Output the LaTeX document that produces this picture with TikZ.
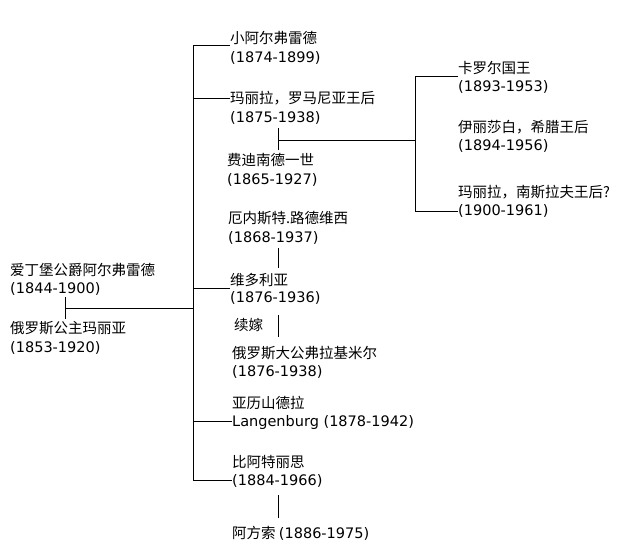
\documentclass[tikz,border=0pt]{standalone}
\usepackage{fontspec}
\setmainfont{DejaVu Sans}[Scale=1.0]
\newfontfamily\cjk{Noto Sans CJK SC}
\begin{document}
\begin{tikzpicture}[x=1pt,y=-1pt,
  lbl/.style={anchor=west,inner sep=0pt,font=\fontsize{14.5}{16}\selectfont},
  ln/.style={line width=0.8pt}]
\useasboundingbox (0,0) rectangle (640,554);
\fill[white] (0,0) rectangle (640,554);
% parents
\node[lbl] (a1) at (10,270) {\cjk 爱丁堡公爵阿尔弗雷德};
\node[lbl] (a2) at (10,289) {(1844-1900)};
\node[lbl] (m1) at (10,328) {\cjk 俄罗斯公主玛丽亚};
\node[lbl] (m2) at (10,348) {(1853-1920)};
% children
\node[lbl] (c1) at (230,38) {\cjk 小阿尔弗雷德};
\node[lbl] (c1d) at (230,58) {(1874-1899)};
\node[lbl] (c2) at (230,98) {\cjk 玛丽拉，罗马尼亚王后};
\node[lbl] (c2d) at (230,118) {(1875-1938)};
\node[lbl] (f1) at (227,160) {\cjk 费迪南德一世};
\node[lbl] (f1d) at (227,180) {(1865-1927)};
\node[lbl] (e1) at (228,218) {\cjk 厄内斯特.路德维西};
\node[lbl] (e1d) at (228,238) {(1868-1937)};
\node[lbl] (c3) at (230,280) {\cjk 维多利亚};
\node[lbl] (c3d) at (230,298) {(1876-1936)};
\node[lbl] (xj) at (234,325) {\cjk 续嫁};
\node[lbl] (k1) at (232,353) {\cjk 俄罗斯大公弗拉基米尔};
\node[lbl] (k1d) at (232,372) {(1876-1938)};
\node[lbl] (c4) at (232,403) {\cjk 亚历山德拉};
\node[lbl] (c4d) at (232,422) {Langenburg (1878-1942)};
\node[lbl] (c5) at (232,462) {\cjk 比阿特丽思};
\node[lbl] (c5d) at (232,481) {(1884-1966)};
\node[lbl] (al) at (232,533) {\cjk 阿方索 \rmfamily(1886-1975)};
% grandchildren
\node[lbl] (g1) at (458,68) {\cjk 卡罗尔国王};
\node[lbl] (g1d) at (458,87) {(1893-1953)};
\node[lbl] (g2) at (458,127) {\cjk 伊丽莎白，希腊王后};
\node[lbl] (g2d) at (458,146) {(1894-1956)};
\node[lbl] (g3) at (458,192) {\cjk 玛丽拉，南斯拉夫王后?};
\node[lbl] (g3d) at (458,211) {(1900-1961)};
% coordinates
\coordinate (pa) at (65,297); \coordinate (pb) at (65,319); \coordinate (pm) at (65,308);
\coordinate (vt) at (193,45); \coordinate (vb) at (193,480); \coordinate (vm) at (193,308);
\coordinate (h1) at (193,45); \coordinate (h2) at (193,98); \coordinate (h3) at (193,288);
\coordinate (h4) at (193,421); \coordinate (h5) at (193,480);
\coordinate (r1) at (278,128); \coordinate (r2) at (278,150); \coordinate (rm) at (278,140);
\coordinate (rv) at (415,140); \coordinate (rt) at (415,76); \coordinate (rb) at (415,211);
\coordinate (rg2) at (415,140);
\coordinate (e2) at (278,248); \coordinate (e3) at (278,268);
\coordinate (k2) at (278,315); \coordinate (k3) at (278,337);
\coordinate (b2) at (278,495); \coordinate (b3) at (278,518);
% lines
\draw[ln] (pa) -- (pb);
\draw[ln] (pm) -- (vm);
\draw[ln] (vt) -- (vb);
\draw[ln] (h1) -- (h1 -| c1.west);
\draw[ln] (h2) -- (h2 -| c2.west);
\draw[ln] (h3) -- (h3 -| c3.west);
\draw[ln] (h4) -- (h4 -| c4d.west);
\draw[ln] (h5) -- (h5 -| c5d.west);
\draw[ln] (r1) -- (r2);
\draw[ln] (rm) -- (rv);
\draw[ln] (rt) -- (rb);
\draw[ln] (rt) -- (rt -| g1.west);
\draw[ln] (rb) -- (rb -| g3d.west);
\draw[ln] (e2) -- (e3);
\draw[ln] (k2) -- (k3);
\draw[ln] (b2) -- (b3);
\end{tikzpicture}
\end{document}
